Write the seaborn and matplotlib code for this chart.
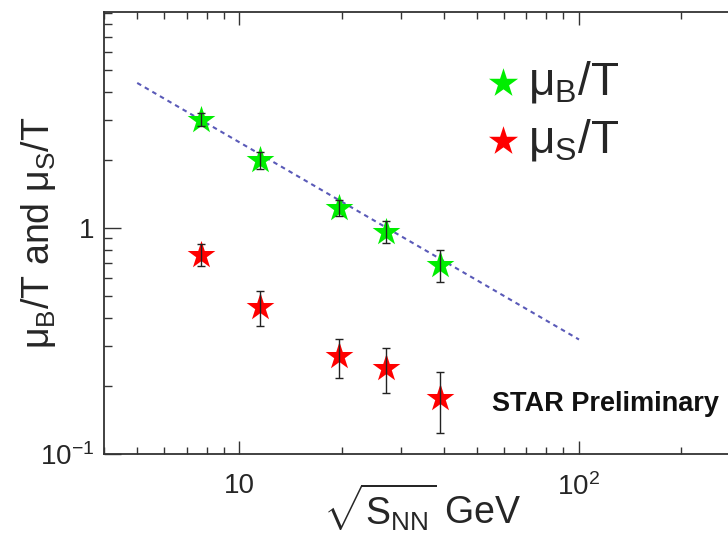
import numpy as np
import pandas as pd
import matplotlib
matplotlib.use("Agg")
import matplotlib.pyplot as plt
from matplotlib.ticker import FixedLocator, FixedFormatter, LogLocator, NullFormatter
import seaborn as sns

# Collision energies (GeV)
energy = [7.7, 11.5, 19.6, 27.0, 39.0]

# Baryon chemical potential over temperature
muB_T = [3.02, 2.00, 1.23, 0.965, 0.69]
muB_err = [0.20, 0.18, 0.10, 0.11, 0.11]

# Strangeness chemical potential over temperature
muS_T = [0.763, 0.448, 0.271, 0.241, 0.177]
muS_err = [0.085, 0.078, 0.053, 0.055, 0.053]

# Power-law fit to mu_B/T: A * sqrt(s)^p, drawn from 5 to 100 GeV
fit_amp = 17.9
fit_pow = -0.873
fit_range = [5.0, 100.0]

x_ticks = [10, 100]
x_ticklabels = ["10", "$10^{2}$"]
y_ticks = [0.1, 1]
y_ticklabels = ["$10^{-1}$", "1"]

sns.set_theme(style="ticks")
plt.rcParams["font.family"] = ["Liberation Sans", "DejaVu Sans"]
plt.rcParams["mathtext.fontset"] = "custom"
plt.rcParams["mathtext.rm"] = "Liberation Sans"
plt.rcParams["mathtext.it"] = "Liberation Sans"
plt.rcParams["mathtext.bf"] = "Liberation Sans:bold"
plt.rcParams["mathtext.default"] = "regular"

df_b = pd.DataFrame({"energy": energy, "value": muB_T, "err": muB_err})
df_s = pd.DataFrame({"energy": energy, "value": muS_T, "err": muS_err})

fig = plt.figure(figsize=(7.28, 5.35), dpi=100)
ax = fig.add_axes([104.3 / 728, 81 / 535, (741 - 104.3) / 728, (454 - 12) / 535])
ax.set_xscale("log")
ax.set_yscale("log")

# fit line
xf = np.geomspace(fit_range[0], fit_range[1], 200)
sns.lineplot(x=xf, y=fit_amp * xf ** fit_pow, ax=ax, color="#5a5ab8",
             linewidth=1.5, linestyle=(0, (2.2, 2.0)), zorder=2)

star_ms = 21
sns.scatterplot(data=df_b, x="energy", y="value", ax=ax, marker="*",
                s=star_ms ** 2, color="#00ee00", edgecolor="#00ee00",
                linewidth=0, zorder=3, label=r"$\mu_{B}/T$")
sns.scatterplot(data=df_s, x="energy", y="value", ax=ax, marker="*",
                s=star_ms ** 2, color="#ff0000", edgecolor="#ff0000",
                linewidth=0, zorder=3, label=r"$\mu_{S}/T$")

for d in (df_b, df_s):
    ax.errorbar(d["energy"], d["value"], yerr=d["err"], fmt="none",
                ecolor="#222222", elinewidth=1.0, capsize=2.6,
                capthick=1.0, zorder=4)

ax.set_xlim(4, 300)
ax.set_ylim(0.1, 9.05)

ax.xaxis.set_major_locator(FixedLocator(x_ticks))
ax.xaxis.set_major_formatter(FixedFormatter(x_ticklabels))
ax.yaxis.set_major_locator(FixedLocator(y_ticks))
ax.yaxis.set_major_formatter(FixedFormatter(y_ticklabels))
ax.xaxis.set_minor_locator(LogLocator(base=10, subs=np.arange(2, 10), numticks=20))
ax.yaxis.set_minor_locator(LogLocator(base=10, subs=np.arange(2, 10), numticks=20))
ax.xaxis.set_minor_formatter(NullFormatter())
ax.yaxis.set_minor_formatter(NullFormatter())

ax.tick_params(axis="x", which="major", direction="in", length=9.5, width=1.0,
               top=True, bottom=True, labelsize=20, pad=14, color="#333333")
ax.tick_params(axis="x", which="minor", direction="in", length=5, width=1.0,
               top=True, bottom=True, color="#333333")
ax.tick_params(axis="y", which="major", direction="in", length=12.5, width=1.0,
               left=True, right=False, labelsize=20, pad=7, color="#333333")
ax.tick_params(axis="y", which="minor", direction="in", length=6, width=1.0,
               left=True, right=False, color="#333333")

for side in ("left", "bottom", "top", "right"):
    ax.spines[side].set_linewidth(1.3)
    ax.spines[side].set_color("#333333")

ax.set_xlabel(r"$\sqrt{S_{NN}}$ GeV", fontsize=27)
ax.set_ylabel(r"$\mu_{B}/T$ and $\mu_{S}/T$", fontsize=27)
ax.xaxis.set_label_coords(0.5, -0.064)
ax.yaxis.set_label_coords(-0.072, 0.5)

ax.text(55.5, 0.166, "STAR Preliminary", fontsize=19.5, fontweight="bold",
        ha="left", va="center", color="#111111")

leg = ax.legend(loc="upper left", bbox_to_anchor=(462 / 728, 1 - 41 / 535),
                bbox_transform=fig.transFigure, frameon=False, fontsize=33,
                handletextpad=0.05, labelspacing=0.26, borderaxespad=0,
                handlelength=1.0, markerscale=1.05)

fig.savefig("out.png", dpi=100)
